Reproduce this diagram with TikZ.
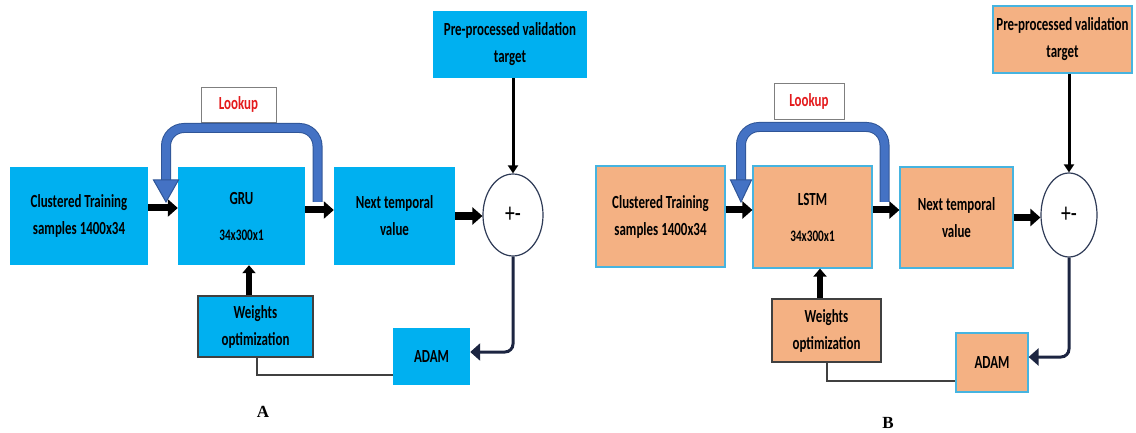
\documentclass[tikz,border=0pt]{standalone}
\usepackage{fontspec}
\newfontfamily\cbf[FakeStretch=0.70]{Carlito}
\newfontfamily\serifb{Liberation Serif}
\usetikzlibrary{arrows.meta,shapes.geometric}
\definecolor{boxblue}{HTML}{00B0F0}
\definecolor{boxorange}{HTML}{F4B183}
\definecolor{edgeaqua}{HTML}{46B4E0}
\definecolor{edgegray}{HTML}{404040}
\definecolor{lookgray}{HTML}{7F7F7F}
\definecolor{lookred}{HTML}{E41A1C}
\definecolor{bandfill}{HTML}{4472C4}
\definecolor{bandedge}{HTML}{2F5597}
\definecolor{navy}{HTML}{1C2541}
\definecolor{circedge}{HTML}{2F3B57}
\tikzset{
  boxnode/.style={rectangle, inner sep=0pt, align=center,
    font=\cbf\bfseries\fontsize{18.5}{27}\selectfont},
  bluebox/.style={boxnode, fill=boxblue},
  orangebox/.style={boxnode, fill=boxorange, draw=edgeaqua, line width=1.2pt},
  darkedge/.style={draw=edgegray, line width=1.2pt},
  lookbox/.style={rectangle, inner sep=0pt, fill=white, draw=lookgray, line width=0.9pt,
    font=\cbf\bfseries\fontsize{18.5}{20}\selectfont, text=lookred},
  sumnode/.style={ellipse, inner sep=0pt, draw=circedge, fill=white, line width=1.2pt,
    font=\cbf\fontsize{28}{28}\selectfont},
  bigarrow/.style={line width=7pt, -{Triangle[length=10pt,width=17pt]}},
  uparrow/.style={line width=6pt, -{Triangle[length=8pt,width=13pt]}},
  downarrow/.style={line width=3pt, -{Triangle[length=8pt,width=10pt]}},
  backarrow/.style={navy, line width=3pt, rounded corners=8pt, -{Triangle[length=10pt,width=17pt]}},
  thinline/.style={edgegray, line width=1.5pt},
  lookband/.style={draw=bandedge, double=bandfill, double distance=8pt, line width=1pt,
    rounded corners=18pt},
  lookhead/.style={fill=bandfill, draw=bandedge, line width=1pt, line join=miter},
  panellabel/.style={font=\serifb\bfseries\fontsize{17}{17}\selectfont}
}
\begin{document}
\begin{tikzpicture}[x=1pt,y=-1pt]
\useasboundingbox (0,0) rectangle (1136,433);
% ---------------- Panel A ----------------
\node[bluebox, minimum width=138pt, minimum height=98pt] (clA) at (79,216) {Clustered Training\\samples 1400x34};
\node[bluebox, minimum width=127pt, minimum height=98pt] (gruA) at (241.5,216) {GRU\\[9pt]{\fontsize{16}{16}\selectfont 34x300x1}};
\node[bluebox, minimum width=121pt, minimum height=98pt] (nextA) at (394.5,216) {Next temporal\\value};
\node[sumnode, minimum width=60pt, minimum height=82pt] (sumA) at (513,215) {+-};
\node[bluebox, minimum width=154pt, minimum height=67pt] (preA) at (510,44.5) {Pre-processed validation\\target};
\node[lookbox, minimum width=75pt, minimum height=35pt] (lookA) at (238.5,104.5) {Lookup};
\node[bluebox, darkedge, minimum width=115pt, minimum height=61pt] (wA) at (255.5,326.5) {Weights\\optimization};
\node[bluebox, minimum width=77pt, minimum height=57pt] (adamA) at (431.5,356.5) {ADAM};
\node[panellabel] (labA) at (263,412) {A};

\draw[bigarrow] ([yshift=8pt]clA.east) -- ([yshift=8pt]gruA.west);
\draw[bigarrow] ([yshift=6pt]gruA.east) -- ([yshift=6pt]nextA.east -| nextA.west);
\draw[bigarrow] (nextA.east) -- (nextA.east -| sumA.west);
\draw[uparrow] ([xshift=-6.5pt]wA.north) -- ([xshift=-6.5pt]wA.north |- gruA.south);
\draw[downarrow] (preA.south -| sumA.north) -- (sumA.north);
\draw[backarrow] (sumA.south) |- ([yshift=4.5pt]adamA.east);
\draw[thinline] ([xshift=1.5pt]wA.south) |- ([yshift=-18.5pt]adamA.west);
\coordinate (bandA1) at (317.5,202);
\coordinate (bandA2) at (317.5,128);
\coordinate (bandA3) at (166,128);
\coordinate (bandA4) at (166,182);
\draw[lookband] (bandA1) -- (bandA2) -- (bandA3) -- (bandA4);
\filldraw[lookhead] (153.5,180) -- (178.5,180) -- (166,202) -- cycle;

% ---------------- Panel B ----------------
\node[orangebox, minimum width=129pt, minimum height=101pt] (clB) at (660.5,216.5) {Clustered Training\\samples 1400x34};
\node[orangebox, minimum width=119pt, minimum height=102pt] (lstmB) at (812.5,217) {LSTM\\[9pt]{\fontsize{16}{16}\selectfont 34x300x1}};
\node[orangebox, minimum width=113pt, minimum height=101pt] (nextB) at (956.5,217.5) {Next temporal\\value};
\node[sumnode, minimum width=56pt, minimum height=84pt] (sumB) at (1069,215) {+-};
\node[orangebox, minimum width=139pt, minimum height=67pt] (preB) at (1062.5,39.5) {Pre-processed validation\\target};
\node[lookbox, minimum width=70pt, minimum height=36pt] (lookB) at (809,101) {Lookup};
\node[orangebox, darkedge, minimum width=109pt, minimum height=63pt] (wB) at (826.5,330.5) {Weights\\optimization};
\node[orangebox, minimum width=72pt, minimum height=59pt] (adamB) at (992,362.5) {ADAM};
\node[panellabel] (labB) at (888,423) {B};

\draw[bigarrow] ([yshift=6.5pt]clB.east) -- ([yshift=6.5pt]clB.east -| lstmB.west);
\draw[bigarrow] ([yshift=7pt]lstmB.east) -- ([yshift=7pt]lstmB.east -| nextB.west);
\draw[bigarrow] (nextB.east) -- (nextB.east -| sumB.west);
\draw[uparrow] ([xshift=-6.5pt]wB.north) -- ([xshift=-6.5pt]wB.north |- lstmB.south);
\draw[downarrow] (preB.south -| sumB.north) -- (sumB.north);
\draw[backarrow] (sumB.south) |- ([yshift=5.5pt]adamB.east);
\draw[thinline] ([xshift=0.5pt]wB.south) |- ([yshift=-18.5pt]adamB.west);
\coordinate (bandB1) at (884.5,202);
\coordinate (bandB2) at (884.5,127);
\coordinate (bandB3) at (741,127);
\coordinate (bandB4) at (741,182);
\draw[lookband] (bandB1) -- (bandB2) -- (bandB3) -- (bandB4);
\filldraw[lookhead] (730.5,180) -- (751.5,180) -- (741,202) -- cycle;
\end{tikzpicture}
\end{document}
